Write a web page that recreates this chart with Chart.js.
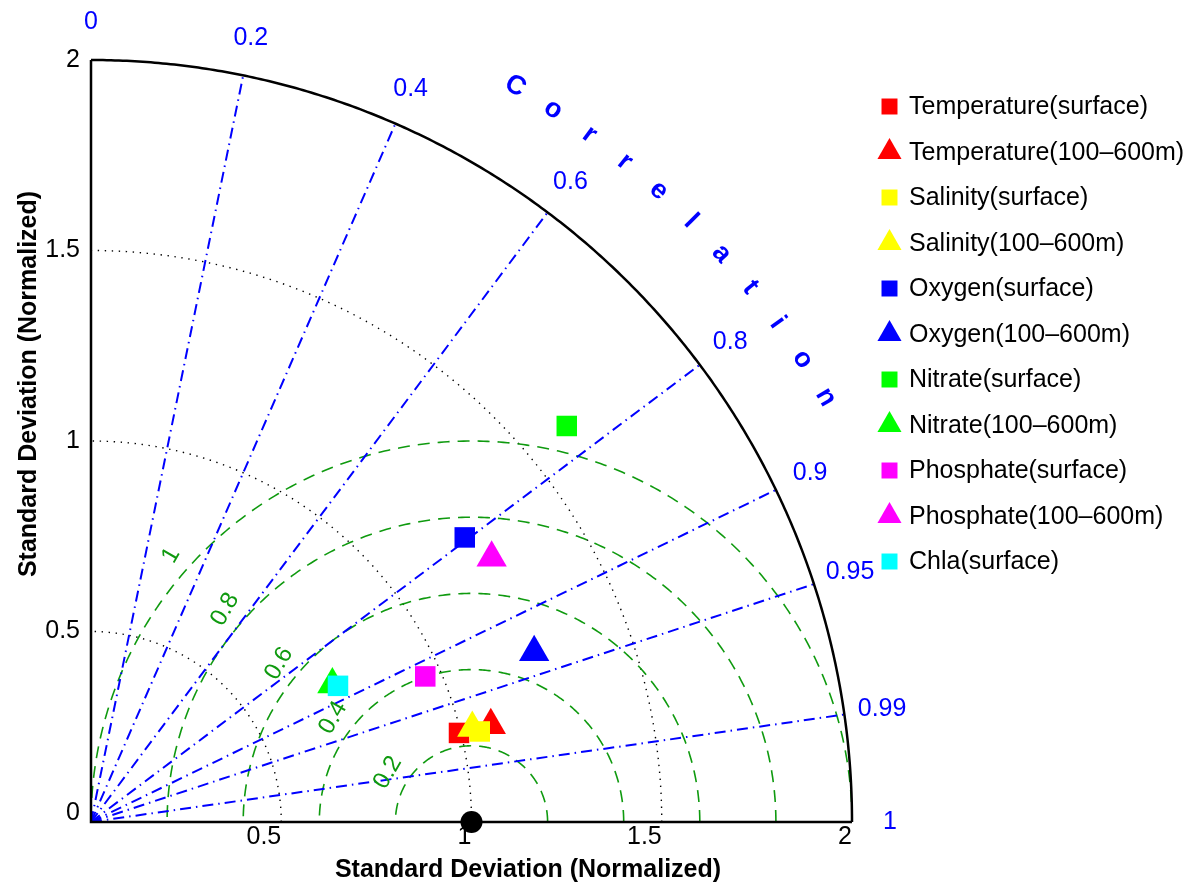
<!DOCTYPE html>
<html>
<head>
<meta charset="utf-8">
<script src="https://cdn.jsdelivr.net/npm/chart.js@4.4.1/dist/chart.umd.min.js"></script>
<style>
  html, body { margin: 0; padding: 0; background: #fff; }
  #wrap { width: 1194px; height: 885px; }
</style>
</head>
<body>
<div id="wrap"><canvas id="taylor" width="1194" height="885"></canvas></div>
<script>
// series in legend order
const seriesLabels = [
  "Temperature(surface)", "Temperature(100\u2013600m)",
  "Salinity(surface)", "Salinity(100\u2013600m)",
  "Oxygen(surface)", "Oxygen(100\u2013600m)",
  "Nitrate(surface)", "Nitrate(100\u2013600m)",
  "Phosphate(surface)", "Phosphate(100\u2013600m)",
  "Chla(surface)"
];
const seriesColors = ["#ff0000", "#ff0000", "#ffff00", "#ffff00", "#0000ff", "#0000ff",
                      "#00ff00", "#00ff00", "#ff00ff", "#ff00ff", "#00ffff"];
const seriesMarkers = ["rect", "triangle", "rect", "triangle", "rect", "triangle",
                       "rect", "triangle", "rect", "triangle", "rect"];

// normalized standard deviation and correlation
const stdDev      = [0.995, 1.081, 1.049, 1.032, 1.234, 1.247, 1.626, 0.730, 0.958, 1.261, 0.741];
const correlation = [0.972, 0.972, 0.974, 0.971, 0.796, 0.934, 0.769, 0.869, 0.917, 0.835, 0.876];

// reference (observation) point
const refStd = 1;
const refCorr = 1;

// grid definitions
const stdArcs = [0.5, 1, 1.5];
const corrLines = [0.2, 0.4, 0.6, 0.8, 0.9, 0.95, 0.99];
const corrTicks = [0, 0.2, 0.4, 0.6, 0.8, 0.9, 0.95, 0.99, 1];
const rmsArcs = [0.2, 0.4, 0.6, 0.8, 1];
const maxStd = 2;

const FONT = '"Liberation Sans", Arial, Helvetica, sans-serif';
const BLUE = "#0000ff";
const GREEN = "#0f9a0f";

const toXY = (s, c) => ({ x: s * c, y: s * Math.sqrt(Math.max(0, 1 - c * c)) });

const fmt = (v) => String(Math.round(v * 100) / 100);

const taylorGrid = {
  id: "taylorGrid",
  beforeDatasetsDraw(chart) {
    const { ctx } = chart;
    const xs = chart.scales.x, ys = chart.scales.y;
    const px = (u, v) => [xs.getPixelForValue(u), ys.getPixelForValue(v)];
    const curve = (fn, n) => {
      ctx.beginPath();
      for (let k = 0; k <= n; k++) {
        const [u, v] = fn(k / n);
        const [a, b] = px(u, v);
        if (k === 0) ctx.moveTo(a, b); else ctx.lineTo(a, b);
      }
      ctx.stroke();
    };
    ctx.save();

    // std dev arcs, black dotted
    ctx.strokeStyle = "#000";
    ctx.lineWidth = 1.4;
    ctx.setLineDash([1.4, 5.6]);
    stdArcs.forEach(s => curve(t => [s * Math.cos(t * Math.PI / 2), s * Math.sin(t * Math.PI / 2)], 300));

    // centred RMS difference arcs, green dashed
    ctx.strokeStyle = GREEN;
    ctx.lineWidth = 1.6;
    ctx.setLineDash([12, 8]);
    rmsArcs.forEach(r => curve(t => [refStd + r * Math.cos(t * Math.PI), r * Math.sin(t * Math.PI)], 300));

    // correlation rays, blue dash-dot
    ctx.strokeStyle = BLUE;
    ctx.lineWidth = 2;
    ctx.setLineDash([11, 5, 1.5, 5]);
    corrLines.forEach(c => {
      const th = Math.acos(c);
      curve(t => [t * maxStd * Math.cos(th), t * maxStd * Math.sin(th)], 1);
    });

    // axes and outer arc
    ctx.setLineDash([]);
    ctx.strokeStyle = "#000";
    ctx.lineWidth = 2.5;
    curve(t => [maxStd * Math.cos(t * Math.PI / 2), maxStd * Math.sin(t * Math.PI / 2)], 300);
    ctx.beginPath();
    let p = px(0, maxStd); ctx.moveTo(p[0], p[1]);
    p = px(0, 0); ctx.lineTo(p[0], p[1]);
    p = px(maxStd, 0); ctx.lineTo(p[0], p[1]);
    ctx.stroke();
    ctx.restore();
  },
  afterDraw(chart) {
    const { ctx } = chart;
    const xs = chart.scales.x, ys = chart.scales.y;
    const px = (u, v) => [xs.getPixelForValue(u), ys.getPixelForValue(v)];
    ctx.save();

    // std dev tick labels
    ctx.fillStyle = "#000";
    ctx.font = "25px " + FONT;
    ctx.textAlign = "right";
    ctx.textBaseline = "middle";
    const y0 = ys.getPixelForValue(0);
    ys.ticks.forEach(t => {
      const yy = Math.min(ys.getPixelForValue(t.value), y0 - 9);
      ctx.fillText(fmt(t.value), xs.left - 11, yy);
    });
    ctx.textBaseline = "top";
    xs.ticks.forEach(t => {
      if (t.value === 0) return;
      ctx.fillText(fmt(t.value), xs.getPixelForValue(t.value), y0 + 3);
    });

    // axis titles
    ctx.font = "bold 25px " + FONT;
    ctx.textAlign = "center";
    ctx.textBaseline = "middle";
    ctx.fillText("Standard Deviation (Normalized)", 528, 870);
    ctx.save();
    ctx.translate(29, 384);
    ctx.rotate(-Math.PI / 2);
    ctx.fillText("Standard Deviation (Normalized)", 0, 0);
    ctx.restore();

    // correlation tick labels
    ctx.fillStyle = BLUE;
    ctx.font = "25px " + FONT;
    corrTicks.forEach(c => {
      const th = Math.acos(c);
      const [a, b] = px(2.1 * Math.cos(th), 2.1 * Math.sin(th));
      ctx.fillText(fmt(c), a, b);
    });

    // "Correlation" title along the arc
    ctx.font = "bold 27px " + FONT;
    const word = "Correlation";
    for (let i = 0; i < word.length; i++) {
      const deg = 60 - i * 30 / (word.length - 1);
      const th = deg * Math.PI / 180;
      const [a, b] = px(2.23 * Math.cos(th), 2.23 * Math.sin(th));
      ctx.save();
      ctx.translate(a, b);
      ctx.rotate((90 - deg) * Math.PI / 180);
      ctx.fillText(word[i], 0, 0);
      ctx.restore();
    }

    // RMS labels, green
    ctx.fillStyle = GREEN;
    ctx.font = "24px " + FONT;
    rmsArcs.forEach(r => {
      const R = r + 0.055;
      const th = (135 * Math.PI / 180) + Math.asin(0.0636 / R);
      const [a, b] = px(refStd + R * Math.cos(th), R * Math.sin(th));
      ctx.save();
      ctx.translate(a, b);
      ctx.rotate(-60 * Math.PI / 180);
      ctx.fillText(fmt(r), 0, 0);
      ctx.restore();
    });

    // legend
    ctx.font = "25px " + FONT;
    ctx.textAlign = "left";
    seriesLabels.forEach((label, i) => {
      const yy = 106.5 + 45.5 * i;
      ctx.fillStyle = seriesColors[i];
      const opts = {
        pointStyle: seriesMarkers[i],
        radius: seriesMarkers[i] === "rect" ? 11.3 : 13.9,
        rotation: 0,
        borderWidth: 0
      };
      Chart.helpers.drawPoint(ctx, opts, 889.5, yy);
      ctx.fillStyle = "#000";
      ctx.fillText(label, 909, yy + 1);
    });
    ctx.restore();
  }
};

const datasets = seriesLabels.map((label, i) => ({
  label: label,
  data: [toXY(stdDev[i], correlation[i])],
  pointStyle: seriesMarkers[i],
  pointRadius: seriesMarkers[i] === "rect" ? 14.5 : 17.5,
  pointBackgroundColor: seriesColors[i],
  pointBorderWidth: 0,
  order: seriesLabels.length - i + 1,
  clip: false
}));
datasets.push({
  label: "Reference",
  data: [toXY(refStd, refCorr)],
  pointStyle: "circle",
  pointRadius: 11,
  pointBackgroundColor: "#000",
  pointBorderWidth: 0,
  order: 0,
  clip: false
});

new Chart(document.getElementById("taylor"), {
  type: "scatter",
  data: { datasets: datasets },
  options: {
    responsive: false,
    animation: false,
    events: [],
    layout: { padding: { left: 91, top: 60, right: 342, bottom: 63 } },
    scales: {
      x: { type: "linear", min: 0, max: maxStd, display: false, ticks: { stepSize: 0.5 } },
      y: { type: "linear", min: 0, max: maxStd, display: false, ticks: { stepSize: 0.5 } }
    },
    plugins: { legend: { display: false }, tooltip: { enabled: false } }
  },
  plugins: [taylorGrid]
});
</script>
</body>
</html>
